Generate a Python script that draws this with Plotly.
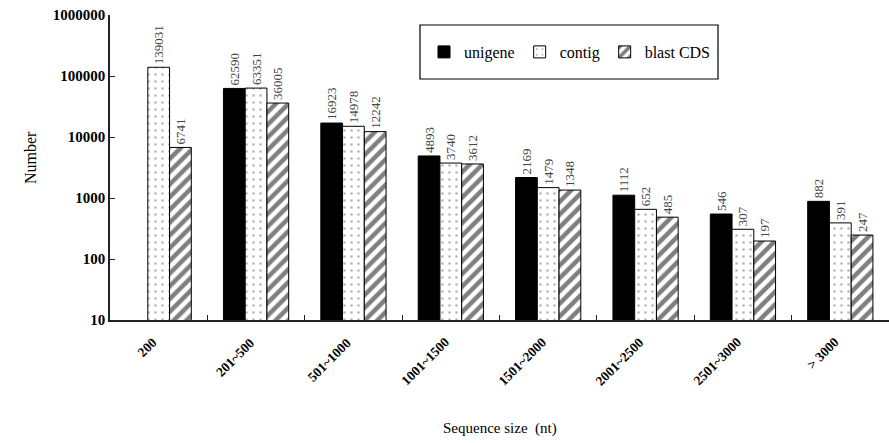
import plotly.graph_objects as go

categories = ["200", "201~500", "501~1000", "1001~1500", "1501~2000", "2001~2500", "2501~3000", "> 3000"]
unigene = [None, 62590, 16923, 4893, 2169, 1112, 546, 882]
contig = [139031, 63351, 14978, 3740, 1479, 652, 307, 391]
blast_cds = [6741, 36005, 12242, 3612, 1348, 485, 197, 247]
y_ticks = [10, 100, 1000, 10000, 100000, 1000000]

FONT = "Liberation Serif"
xpos = list(range(len(categories)))

def labels(vals):
    return ["" if v is None else str(v) for v in vals]

common = dict(textposition="outside", textangle=-90, cliponaxis=False, constraintext="none",
              textfont=dict(family=FONT, size=13, color="#444"))

fig = go.Figure()
fig.add_trace(go.Bar(
    x=xpos, y=unigene, name="unigene",
    marker=dict(color="black", line=dict(color="black", width=1)),
    text=labels(unigene), **common,
))
fig.add_trace(go.Bar(
    x=xpos, y=contig, name="contig",
    marker=dict(color="white", line=dict(color="black", width=1),
                pattern=dict(shape=".", fgcolor="#666", bgcolor="white", size=7, solidity=0.1)),
    text=labels(contig), **common,
))
fig.add_trace(go.Bar(
    x=xpos, y=blast_cds, name="blast CDS",
    marker=dict(color="white", line=dict(color="black", width=1),
                pattern=dict(shape="/", fgcolor="black", bgcolor="white", size=9, solidity=0.5)),
    text=labels(blast_cds), **common,
))

W, H = 889, 443
L, T, B, R = 110, 15, 123, 0
pw, ph = W - L - R, H - T - B

def px_x(sx):  # screen x -> paper x
    return (sx - L) / pw

def px_y(sy):  # screen y -> paper y
    return (H - B - sy) / ph

# rotated category labels (drawn as annotations on the x data scale)
cat_annotations = [
    dict(text="<b>%s</b>" % c, xref="x", yref="paper", x=i, y=0,
         xanchor="right", yanchor="top", xshift=4, yshift=-12, textangle=-45,
         showarrow=False, font=dict(family=FONT, size=13.5, color="black"))
    for i, c in zip(xpos, categories)
]

fig.update_layout(
    width=W, height=H,
    margin=dict(l=L, r=R, t=T, b=B, autoexpand=False),
    plot_bgcolor="white", paper_bgcolor="white",
    barmode="group", bargap=0.33, bargroupgap=0,
    font=dict(family=FONT, color="black"),
    showlegend=True,
    legend=dict(
        orientation="h", x=px_x(424), y=px_y(52), xanchor="left", yanchor="middle",
        borderwidth=0, bgcolor="rgba(0,0,0,0)",
        font=dict(family=FONT, size=16, color="black"),
        itemwidth=30, tracegroupgap=0,
    ),
    shapes=[dict(type="rect", xref="paper", yref="paper",
                 x0=px_x(420), x1=px_x(718), y0=px_y(79), y1=px_y(25),
                 line=dict(color="black", width=1.2), fillcolor="rgba(0,0,0,0)", layer="above")],
    annotations=cat_annotations + [
        dict(text="Sequence size  (nt)", xref="paper", yref="paper", x=px_x(500), y=px_y(428),
             xanchor="center", yanchor="middle", showarrow=False,
             font=dict(family=FONT, size=15, color="black")),
        dict(text="Number", xref="paper", yref="paper", x=px_x(30), y=px_y(158),
             xanchor="center", yanchor="middle", showarrow=False, textangle=-90,
             font=dict(family=FONT, size=16, color="black")),
    ],
    xaxis=dict(
        type="linear", range=[-0.5, len(categories) - 0.5],
        tickmode="array", tickvals=xpos, ticktext=categories, ticks="", showticklabels=False,
        showline=True, linecolor="#222", linewidth=1.5, automargin=False,
        minor=dict(tickmode="array", tickvals=[i + 0.5 for i in xpos[:-1]],
                   ticks="inside", ticklen=5, tickcolor="#222", showgrid=False),
        showgrid=False, zeroline=False,
    ),
    yaxis=dict(
        type="log", range=[1, 6], automargin=False,
        tickvals=y_ticks, ticktext=["<b>%d</b>" % v for v in y_ticks],
        showline=True, linecolor="#222", linewidth=1.5,
        ticks="inside", ticklen=5, tickcolor="#222",
        tickfont=dict(family=FONT, size=15, color="black"),
        showgrid=False, zeroline=False,
    ),
)

fig.write_html("out.html", config={"displayModeBar": False},
               post_script="document.body.style.margin='0';document.body.style.overflow='hidden';")
